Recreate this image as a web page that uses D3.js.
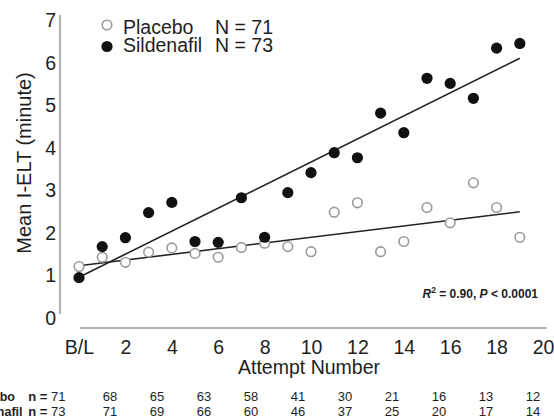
<!DOCTYPE html>
<html>
<head>
<meta charset="utf-8">
<script src="https://cdn.jsdelivr.net/npm/d3@7"></script>
<style>
  body { margin: 0; background: #fff; }
  svg { font-family: "Liberation Sans", Arial, sans-serif; }
</style>
</head>
<body>
<svg id="chart" width="554" height="419"></svg>
<script>
// attempt 0 is the baseline (B/L)
var attempts = d3.range(0, 20);
var sildenafil = [0.95, 1.68, 1.89, 2.48, 2.72, 1.80, 1.78, 2.83, 1.90, 2.95,
                  3.42, 3.89, 3.77, 4.82, 4.36, 5.64, 5.52, 5.17, 6.35, 6.46];
var placebo = [1.21, 1.43, 1.31, 1.55, 1.65, 1.52, 1.43, 1.66, 1.76, 1.68,
               1.56, 2.49, 2.71, 1.56, 1.80, 2.60, 2.24, 3.18, 2.60, 1.90];
// fitted lines, [value at B/L, value at attempt 19]
var sildenafilFit = [0.96, 6.11];
var placeboFit = [1.23, 2.50];
var fitRange = [0, 19];

var xTicks = [0, 2, 4, 6, 8, 10, 12, 14, 16, 18, 20];
var yTicks = [0, 1, 2, 3, 4, 5, 6, 7];

// patients remaining, columns for attempts 2..20
var countCols = [2, 4, 6, 8, 10, 12, 14, 16, 18, 20];
var placeboN = [68, 65, 63, 58, 41, 30, 21, 16, 13, 12];
var sildenafilN = [71, 69, 66, 60, 46, 37, 25, 20, 17, 14];

var svg = d3.select("#chart");
var ink = "#1e1e1e";

var x = d3.scaleLinear().domain([0, 20]).range([79, 543]);
var y = d3.scaleLinear().domain([0, 7]).range([318, 20.5]);

// axis lines (light grey, detached from each other)
svg.append("line")
  .attr("x1", 60).attr("x2", 60).attr("y1", 15).attr("y2", 314)
  .attr("stroke", "#b4b4b4").attr("stroke-width", 2.2);
svg.append("line")
  .attr("x1", 80).attr("x2", 547).attr("y1", 328).attr("y2", 328)
  .attr("stroke", "#b4b4b4").attr("stroke-width", 2.2);

var yAxis = svg.append("g")
  .attr("transform", "translate(56,0)")
  .call(d3.axisLeft(y).tickValues(yTicks).tickSize(0).tickPadding(0)
    .tickFormat(d3.format("d")));
yAxis.select(".domain").remove();
yAxis.selectAll("text")
  .attr("font-size", 19.5).attr("fill", ink).attr("font-family", null);

var xAxis = svg.append("g")
  .attr("transform", "translate(0,328)")
  .call(d3.axisBottom(x).tickValues(xTicks).tickSize(0).tickPadding(12)
    .tickFormat(function(d) { return d === 0 ? "B/L" : d; }));
xAxis.select(".domain").remove();
xAxis.selectAll("text")
  .attr("font-size", 19.5).attr("fill", ink).attr("font-family", null);

svg.append("text")
  .attr("transform", "translate(30.5,163) rotate(-90)")
  .attr("text-anchor", "middle")
  .attr("font-size", 20).attr("fill", ink)
  .text("Mean I-ELT (minute)");

svg.append("text")
  .attr("x", 309).attr("y", 374)
  .attr("text-anchor", "middle")
  .attr("font-size", 19.5).attr("fill", ink)
  .text("Attempt Number");

// regression lines
function fitLine(vals) {
  svg.append("line")
    .attr("x1", x(fitRange[0])).attr("y1", y(vals[0]))
    .attr("x2", x(fitRange[1])).attr("y2", y(vals[1]))
    .attr("stroke", "#222").attr("stroke-width", 1.6);
}
fitLine(placeboFit);
fitLine(sildenafilFit);

svg.append("g").selectAll("circle")
  .data(attempts)
  .join("circle")
  .attr("cx", function(d) { return x(d); })
  .attr("cy", function(d) { return y(placebo[d]); })
  .attr("r", 4.8)
  .attr("fill", "#fff")
  .attr("stroke", "#9a9a9a")
  .attr("stroke-width", 1.6);

svg.append("g").selectAll("circle")
  .data(attempts)
  .join("circle")
  .attr("cx", function(d) { return x(d); })
  .attr("cy", function(d) { return y(sildenafil[d]); })
  .attr("r", 5.6)
  .attr("fill", "#111");

// legend
svg.append("circle").attr("cx", 107).attr("cy", 25).attr("r", 4.8)
  .attr("fill", "#fff").attr("stroke", "#9a9a9a").attr("stroke-width", 1.6);
svg.append("circle").attr("cx", 107).attr("cy", 46.5).attr("r", 5.6)
  .attr("fill", "#111");
var legend = [["Placebo", "N = 71", 33.5], ["Sildenafil", "N = 73", 52]];
legend.forEach(function(l) {
  svg.append("text").attr("x", 123).attr("y", l[2])
    .attr("font-size", 19.5).attr("fill", ink).text(l[0]);
  svg.append("text").attr("x", 215).attr("y", l[2])
    .attr("font-size", 19.5).attr("fill", ink).text(l[1]);
});

// stats note
var note = svg.append("text")
  .attr("x", 538).attr("y", 298)
  .attr("text-anchor", "end")
  .attr("font-size", 12).attr("font-weight", "bold").attr("fill", ink);
note.append("tspan").attr("font-style", "italic").text("R");
note.append("tspan").attr("font-size", 8.5).attr("dy", -5.5).text("2");
note.append("tspan").attr("dy", 5.5).text(" = 0.90, ");
note.append("tspan").attr("font-style", "italic").text("P");
note.append("tspan").text(" < 0.0001");

// counts table below the axis
var cx = d3.scaleLinear().domain([2, 20]).range([110, 533]);
var rows = [
  { name: "Placebo", nameX: 15, first: 71, vals: placeboN, y: 401 },
  { name: "Sildenafil", nameX: 22.5, first: 73, vals: sildenafilN, y: 416 }
];
rows.forEach(function(r) {
  svg.append("text").attr("x", r.nameX).attr("y", r.y)
    .attr("text-anchor", "end").attr("font-size", 12.5)
    .attr("font-weight", "bold").attr("fill", ink).text(r.name);
  var t = svg.append("text").attr("x", 65.5).attr("y", r.y)
    .attr("text-anchor", "end").attr("font-size", 13).attr("fill", ink);
  t.append("tspan").attr("font-weight", "bold").text("n = ");
  t.append("tspan").text(r.first);
  svg.append("g").selectAll("text")
    .data(countCols)
    .join("text")
    .attr("x", function(d) { return cx(d); })
    .attr("y", r.y)
    .attr("text-anchor", "middle")
    .attr("font-size", 13).attr("fill", ink)
    .text(function(d, i) { return r.vals[i]; });
});
</script>
</body>
</html>
